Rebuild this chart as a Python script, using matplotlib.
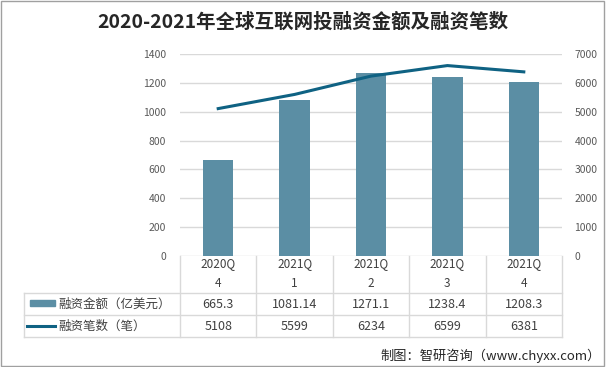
import matplotlib
matplotlib.use('Agg')
import matplotlib.pyplot as plt
from matplotlib.transforms import blended_transform_factory
from matplotlib.patches import Rectangle
from matplotlib.lines import Line2D

plt.rcParams['font.family'] = ['Noto Sans CJK SC', 'DejaVu Sans']

# データ
quarters = ['2020Q\n4', '2021Q\n1', '2021Q\n2', '2021Q\n3', '2021Q\n4']
amount = [665.3, 1081.14, 1271.1, 1238.4, 1208.3]
amount_labels = ['665.3', '1081.14', '1271.1', '1238.4', '1208.3']
deals = [5108, 5599, 6234, 6599, 6381]
series_names = ['融资金额（亿美元）', '融资笔数（笔）']
title = '2020-2021年全球互联网投融资金额及融资笔数'
source = '制图：智研咨询（www.chyxx.com）'

W, H = 606, 367
bar_color = '#5b8ea4'
line_color = '#0f6283'
grid_color = '#d9d9d9'
tick_color = '#595959'
text_color = '#404040'

def fx(px):
    return px / W

def fy(py):
    return 1 - py / H

fig = plt.figure(figsize=(W / 100, H / 100), dpi=100)
ax = fig.add_axes([fx(180), fy(256), fx(562) - fx(180), fy(54) - fy(256)])
ax2 = ax.twinx()

x = list(range(len(quarters)))
ax.bar(x, amount, width=0.4, color=bar_color, zorder=2)
ax2.plot(x, deals, color=line_color, linewidth=2.2, zorder=3)

ax.set_xlim(-0.5, len(quarters) - 0.5)
ax.set_ylim(0, 1400)
ax.set_yticks(range(0, 1401, 200))
ax2.set_ylim(0, 7000)
ax2.set_yticks(range(0, 7001, 1000))
ax.set_xticks([])
ax.grid(axis='y', color=grid_color, linewidth=1, zorder=0)
ax.set_axisbelow(True)
for a in (ax, ax2):
    for s in a.spines.values():
        s.set_visible(False)
    a.tick_params(length=0, labelsize=7.5, labelcolor=tick_color)
ax.tick_params(axis='y', pad=10)
ax2.tick_params(axis='y', pad=9)
ax.set_zorder(ax2.get_zorder() - 1)
ax2.patch.set_visible(False)

# タイトル
fig.text(0.5, fy(22), title, ha='center', va='center', fontsize=14,
         fontweight='bold', color='#262626')

# データテーブル
tr = blended_transform_factory(ax.transData, fig.transFigure)
y_top, y_h, y_r1, y_bot = fy(256), fy(293), fy(315), fy(337)
n = len(quarters)
# 横線
for yy in (y_h, y_r1, y_bot):
    fig.add_artist(Line2D([fx(24), fx(562)], [yy, yy], color=grid_color, lw=1))
# 縦線
for b in [i - 0.5 for i in range(n + 1)]:
    fig.add_artist(Line2D([b, b], [y_top, y_bot], color=grid_color, lw=1, transform=tr))
fig.add_artist(Line2D([fx(24), fx(24)], [y_h, y_bot], color=grid_color, lw=1))

for i in range(n):
    fig.text(i, (y_top + y_h) / 2 + 0.003, quarters[i], transform=tr, ha='center', va='center',
             fontsize=8.5, color=text_color, linespacing=1.75)
    fig.text(i, (y_h + y_r1) / 2, amount_labels[i], transform=tr, ha='center', va='center',
             fontsize=9, color=text_color)
    fig.text(i, (y_r1 + y_bot) / 2, str(deals[i]), transform=tr, ha='center', va='center',
             fontsize=9, color=text_color)

# 凡例
fig.add_artist(Rectangle((fx(30), fy(306)), fx(55) - fx(30), fy(300) - fy(306),
                         color=bar_color, transform=fig.transFigure))
fig.add_artist(Line2D([fx(27), fx(55)], [(y_r1 + y_bot) / 2] * 2, color=line_color, lw=2.2))
fig.text(fx(58), (y_h + y_r1) / 2, series_names[0], ha='left', va='center',
         fontsize=9, color=text_color)
fig.text(fx(58), (y_r1 + y_bot) / 2, series_names[1], ha='left', va='center',
         fontsize=9, color=text_color)

# 出典
fig.text(fx(601), fy(356), source, ha='right', va='center', fontsize=9.5, color='#262626')

# 外枠
fig.add_artist(Rectangle((0.001, 0.002), 0.996, 0.996, fill=False, edgecolor='#a0a0a0',
                         lw=1, transform=fig.transFigure))

fig.savefig('out.png', dpi=100)
